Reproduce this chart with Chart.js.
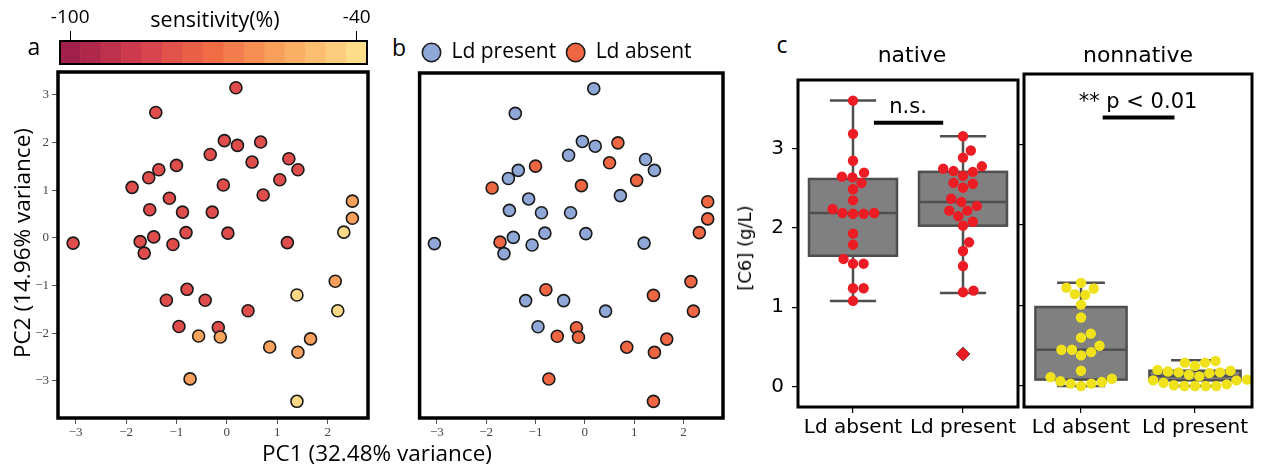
<!DOCTYPE html>
<html>
<head>
<meta charset="utf-8">
<script src="https://cdn.jsdelivr.net/npm/chart.js@4.4.0/dist/chart.umd.min.js"></script>
<style>
body { margin: 0; background: #fff; }
#fig { position: relative; width: 1265px; height: 469px; overflow: hidden; background: #fff; }
#fig canvas { position: absolute; }
.txt { position: absolute; white-space: nowrap; transform: translate(-50%, -50%); line-height: 1; color: #000; }
.sans { font-family: 'Open Sans', sans-serif; }
.dv { font-family: 'DejaVu Sans', sans-serif; }
.rot { transform: translate(-50%, -50%) rotate(-90deg); }
</style>
</head>
<body>
<div id="fig">
  <canvas id="cbar" width="350" height="68" style="left:40px;top:0px"></canvas>
  <canvas id="pcaA" width="380" height="409" style="left:0px;top:60px"></canvas>
  <canvas id="pcaB" width="330" height="439" style="left:412px;top:30px"></canvas>
  <canvas id="native" width="266" height="409" style="left:760px;top:60px"></canvas>
  <canvas id="nonnative" width="255" height="409" style="left:1010px;top:60px"></canvas>

  <div class="txt sans" style="left:34px;top:46px;font-size:23px">a</div>
  <div class="txt sans" style="left:399px;top:47px;font-size:23px">b</div>
  <div class="txt sans" style="left:782px;top:44px;font-size:23px">c</div>
  <div class="txt sans" style="left:215px;top:19px;font-size:21.5px">sensitivity(%)</div>
  <div class="txt sans rot" style="left:22px;top:243px;font-size:22.5px">PC2 (14.96% variance)</div>
  <div class="txt sans" style="left:377px;top:453px;font-size:22.5px">PC1 (32.48% variance)</div>
  <div class="txt dv rot" style="left:745px;top:248px;font-size:18px">[C6] (g/L)</div>
  <div class="txt dv" style="left:912px;top:55px;font-size:22px">native</div>
  <div class="txt dv" style="left:1138px;top:55px;font-size:22px">nonnative</div>
</div>

<script>
// PCA scores (panels a and b), one entry per sample
const pc1 = [-3.05, -1.41, 0.18, -0.05, 0.21, 0.67, -0.33, 0.50, 1.23, 1.41,
             1.05, -0.07, 0.72, -1.88, -1.55, -1.35, -1.00, -1.14, -1.53, -0.88,
             -0.29, -0.81, 0.02, -1.45, -1.72, -1.07, -1.64, 1.20, 2.49, 2.49,
             2.32, 2.15, 1.39, 2.20, -0.79, -1.20, -0.43, 0.42, -0.95, -0.17,
             -0.56, -0.13, 0.85, 1.66, 1.41, -0.73, 1.39];
const pc2 = [-0.11, 2.63, 3.15, 2.04, 1.94, 2.01, 1.75, 1.59, 1.66, 1.43,
             1.22, 1.11, 0.90, 1.06, 1.26, 1.43, 1.52, 0.83, 0.59, 0.54,
             0.54, 0.11, 0.10, 0.02, -0.08, -0.14, -0.32, -0.10, 0.77, 0.41,
             0.12, -0.91, -1.20, -1.53, -1.08, -1.31, -1.31, -1.53, -1.86, -1.88,
             -2.06, -2.08, -2.29, -2.12, -2.40, -2.96, -3.43];
const sensitivity = [-80, -80, -80, -80, -80, -80, -80, -80, -80, -80,
                     -80, -80, -80, -80, -80, -80, -80, -80, -80, -80,
                     -80, -80, -80, -80, -80, -80, -80, -80, -57, -57,
                     -41, -57, -41, -41, -80, -80, -80, -80, -80, -80,
                     -56, -56, -57, -57, -57, -57, -41];
const ldPresent = [1, 1, 1, 1, 1, 0, 1, 0, 1, 1,
                   0, 0, 1, 0, 1, 1, 0, 1, 1, 1,
                   1, 1, 1, 1, 0, 1, 1, 1, 0, 0,
                   0, 0, 0, 0, 0, 1, 1, 1, 1, 0,
                   0, 0, 0, 0, 0, 0, 0];

// colorbar levels
const sensLevels = [-100, -95.71, -91.43, -87.14, -82.86, -78.57, -74.29, -70,
                    -65.71, -61.43, -57.14, -52.86, -48.57, -44.29, -40];

// panel c: [C6] per group
const groupLabels = ['Ld absent', 'Ld present'];
const nativeAbsent = [3.61, 3.19, 2.85, 2.70, 2.64, 2.65, 2.57, 2.49, 2.35, 2.24, 2.18,
                      2.18, 2.19, 2.19, 1.93, 1.79, 1.61, 1.55, 1.55, 1.24, 1.24, 1.08];
const nativePresent = [3.16, 2.98, 2.89, 2.78, 2.71, 2.66, 2.72, 2.75, 2.56, 2.51, 2.57, 2.37,
                       2.33, 2.22, 2.22, 2.28, 2.15, 2.08, 2.03, 1.82, 1.71, 1.52, 1.21, 1.19, 0.41];
const nonnativeAbsent = [1.28, 1.21, 1.22, 1.13, 1.14, 1.01, 0.85, 0.65, 0.60, 0.50, 0.42,
                         0.38, 0.45, 0.45, 0.19, 0.11, 0.06, 0.03, 0.00, 0.03, 0.05, 0.09];
const nonnativePresent = [0.31, 0.29, 0.29, 0.25, 0.19, 0.17, 0.16, 0.12, 0.14, 0.17, 0.18,
                          0.20, 0.08, 0.07, 0.02, 0.00, 0.00, 0.00, 0.00, 0.01, 0.04, 0.07];
// box stats [absent, present]
const nativeQ1 = [1.65, 2.03], nativeMed = [2.19, 2.33], nativeQ3 = [2.62, 2.71];
const nativeLo = [1.08, 1.18], nativeHi = [3.61, 3.16];
const nonnativeQ1 = [0.08, 0.07], nonnativeMed = [0.45, 0.12], nonnativeQ3 = [0.98, 0.19];
const nonnativeLo = [0.00, 0.00], nonnativeHi = [1.28, 0.32];
const nativeOutliers = [0.41];
const sigText = ['n.s.', '** p < 0.01'];

Chart.defaults.animation = false;
Chart.defaults.responsive = false;
Chart.defaults.plugins.legend.display = false;
Chart.defaults.plugins.tooltip.enabled = false;

const cmapStops = ['#a01f4b', '#d53e4f', '#f16c45', '#f9a85f', '#fddc8a'];
function hexRgb(h) {
  return [1, 3, 5].map(i => parseInt(h.substr(i, 2), 16));
}
function cmap(v) {
  let t = (v - sensLevels[0]) / (sensLevels[sensLevels.length - 1] - sensLevels[0]);
  t = Math.max(0, Math.min(1, t)) * (cmapStops.length - 1);
  const k = Math.min(Math.floor(t), cmapStops.length - 2), f = t - k;
  const a = hexRgb(cmapStops[k]), b = hexRgb(cmapStops[k + 1]);
  const c = a.map((x, i) => Math.round(x + (b[i] - x) * f));
  return 'rgb(' + c.join(',') + ')';
}

const minus = v => String(v).replace('-', '\u2212');

// black box around the plot area
const frame = {
  id: 'frame',
  afterDraw(chart, args, opts) {
    const a = chart.chartArea, ctx = chart.ctx;
    ctx.save();
    ctx.lineWidth = opts.width || 3;
    ctx.strokeStyle = '#000';
    ctx.strokeRect(a.left, a.top, a.right - a.left, a.bottom - a.top);
    ctx.restore();
  }
};

// colorbar
new Chart('cbar', {
  type: 'bar',
  data: {
    datasets: [{
      data: sensLevels.map(v => ({x: v, y: 1})),
      backgroundColor: sensLevels.map(cmap),
      barPercentage: 1,
      categoryPercentage: 1,
      borderWidth: 0
    }]
  },
  options: {
    layout: {padding: {left: 20, right: 23, top: 0, bottom: 4}},
    scales: {
      x: {
        type: 'linear', position: 'top', min: -102.14, max: -37.86, offset: false,
        afterBuildTicks: s => { s.ticks = [{value: sensLevels[0]}, {value: sensLevels[sensLevels.length - 1]}]; },
        ticks: {font: {family: 'Open Sans', size: 19}, color: '#000', padding: 2, callback: v => String(Math.round(v))},
        grid: {drawOnChartArea: false, offset: false, tickLength: 10, color: '#000', lineWidth: 1},
        border: {display: false},
        afterFit: s => { s.height = 41; }
      },
      y: {display: false, min: 0, max: 1}
    },
    plugins: {frame: {width: 2}}
  },
  plugins: [frame]
});

const pcRangeX = [-3.35, 2.8], pcRangeY = [-3.78, 3.48];
function pcaScales(yWidth, showY) {
  return {
    x: {
      type: 'linear', min: pcRangeX[0], max: pcRangeX[1],
      ticks: {stepSize: 1, includeBounds: false, padding: 1, color: '#444',
              font: {family: 'Liberation Serif', size: 13}, callback: minus},
      grid: {drawOnChartArea: false, tickLength: 6, color: '#555'},
      border: {display: false},
      afterFit: s => { s.height = 51; }
    },
    y: {
      type: 'linear', min: pcRangeY[0], max: pcRangeY[1],
      ticks: {display: showY, stepSize: 1, includeBounds: false, padding: 3, color: '#444',
              font: {family: 'Liberation Serif', size: 13}, callback: minus},
      grid: {display: showY, drawOnChartArea: false, tickLength: 6, color: '#555'},
      border: {display: false},
      afterFit: s => { s.width = yWidth; }
    }
  };
}
const pointStyle = {pointRadius: 6, pointHoverRadius: 6, borderColor: '#1a1a1a', borderWidth: 1.6};

new Chart('pcaA', {
  type: 'scatter',
  data: {
    datasets: [Object.assign({
      data: pc1.map((x, i) => ({x: x, y: pc2[i]})),
      backgroundColor: sensitivity.map(cmap)
    }, pointStyle)]
  },
  options: {
    layout: {padding: {left: 0, top: 12, right: 12, bottom: 0}},
    scales: pcaScales(58, true),
    plugins: {frame: {width: 3.5}}
  },
  plugins: [frame]
});

const present = [], absent = [];
pc1.forEach((x, i) => (ldPresent[i] ? present : absent).push({x: x, y: pc2[i]}));

new Chart('pcaB', {
  type: 'scatter',
  data: {
    datasets: [
      Object.assign({label: 'Ld present', data: present, backgroundColor: '#8fa8d8'}, pointStyle),
      Object.assign({label: 'Ld absent', data: absent, backgroundColor: '#ef6643'}, pointStyle)
    ]
  },
  options: {
    layout: {padding: {left: 0, top: 2, right: 19, bottom: 0}},
    scales: pcaScales(3, false),
    plugins: {
      frame: {width: 3.5},
      legend: {
        display: true, position: 'top', align: 'start',
        labels: {usePointStyle: true, pointStyle: 'circle', boxWidth: 19, boxHeight: 13, padding: 10,
                 color: '#000', font: {family: 'Open Sans', size: 21}}
      }
    }
  },
  plugins: [frame]
});

// box + whiskers drawn through the chart scales
const boxes = {
  id: 'boxes',
  beforeDatasetsDraw(chart, args, o) {
    const {ctx, scales: {x, y}} = chart;
    ctx.save();
    ctx.lineWidth = 2.5;
    ctx.strokeStyle = '#4f4f4f';
    o.q1.forEach((q1, i) => {
      const xl = x.getPixelForValue(i - 0.4), xr = x.getPixelForValue(i + 0.4);
      const cl = x.getPixelForValue(i - 0.21), cr = x.getPixelForValue(i + 0.21);
      const xc = x.getPixelForValue(i);
      const y1 = y.getPixelForValue(q1), y3 = y.getPixelForValue(o.q3[i]), ym = y.getPixelForValue(o.med[i]);
      const ylo = y.getPixelForValue(o.lo[i]), yhi = y.getPixelForValue(o.hi[i]);
      ctx.beginPath();
      ctx.moveTo(xc, y3); ctx.lineTo(xc, yhi);
      ctx.moveTo(cl, yhi); ctx.lineTo(cr, yhi);
      ctx.moveTo(xc, y1); ctx.lineTo(xc, ylo);
      ctx.moveTo(cl, ylo); ctx.lineTo(cr, ylo);
      ctx.stroke();
      ctx.fillStyle = '#808080';
      ctx.fillRect(xl, y3, xr - xl, y1 - y3);
      ctx.strokeRect(xl, y3, xr - xl, y1 - y3);
      ctx.beginPath();
      ctx.moveTo(xl, ym); ctx.lineTo(xr, ym);
      ctx.stroke();
    });
    ctx.restore();
  },
  afterDatasetsDraw(chart, args, o) {
    const {ctx, scales: {x, y}} = chart;
    ctx.save();
    ctx.strokeStyle = '#000';
    ctx.lineWidth = 4;
    ctx.beginPath();
    ctx.moveTo(x.getPixelForValue(0.19), y.getPixelForValue(3.33));
    ctx.lineTo(x.getPixelForValue(0.82), y.getPixelForValue(3.33));
    ctx.stroke();
    ctx.fillStyle = '#000';
    ctx.font = '21px "DejaVu Sans"';
    ctx.textAlign = 'center';
    ctx.textBaseline = 'alphabetic';
    ctx.fillText(o.label, x.getPixelForValue(0.5), y.getPixelForValue(3.45));
    ctx.restore();
  }
};

function boxChart(id, lists, color, stats, showY, padRight, outliers) {
  const datasets = lists.map((vals, i) => ({
    data: vals.map(v => ({x: i, y: v})),
    backgroundColor: color, borderWidth: 0, pointRadius: 5.2, pointHoverRadius: 5.2
  }));
  if (outliers) {
    datasets.push({
      data: outliers.map(v => ({x: 1, y: v})),
      pointStyle: 'rectRot', backgroundColor: color, borderColor: '#555', borderWidth: 1,
      pointRadius: 7, pointHoverRadius: 7
    });
  }
  const chart = new Chart(id, {
    type: 'scatter',
    data: {datasets: datasets},
    options: {
      layout: {padding: {left: 0, top: 14, right: padRight, bottom: 0}},
      scales: {
        x: {
          type: 'linear', min: -0.5, max: 1.5,
          afterBuildTicks: s => { s.ticks = groupLabels.map((_, i) => ({value: i})); },
          ticks: {callback: v => groupLabels[v], font: {family: 'DejaVu Sans', size: 20}, color: '#000',
                  padding: 3, maxRotation: 0, autoSkip: false},
          grid: {drawOnChartArea: false, tickLength: 6, color: '#000', lineWidth: 1.2},
          border: {display: false},
          afterFit: s => { s.height = 62; }
        },
        y: {
          type: 'linear', min: -0.26, max: 3.87,
          ticks: {display: showY, stepSize: 1, includeBounds: false, padding: 8,
                  font: {family: 'DejaVu Sans', size: 20}, color: '#000'},
          grid: {drawOnChartArea: false, tickLength: 6, color: '#000', lineWidth: 1.2},
          border: {display: false},
          afterFit: s => { s.width = showY ? 38 : 14; }
        }
      },
      plugins: {frame: {width: 3}, boxes: stats}
    },
    plugins: [boxes, frame]
  });
  placeSwarm(chart, lists, 10.6);
  return chart;
}

// seaborn-like swarm: each point goes to the free spot closest to the centre
function beeswarm(vals, ys, d) {
  const pts = vals.map(v => ({v: v, py: ys.getPixelForValue(v), dx: 0}));
  const placed = [];
  pts.slice().sort((a, b) => a.v - b.v).forEach(p => {
    const cands = [0];
    placed.forEach(q => {
      const dy = p.py - q.py;
      if (Math.abs(dy) < d) {
        const w = Math.sqrt(d * d - dy * dy);
        cands.push(q.dx + w, q.dx - w);
      }
    });
    cands.sort((a, b) => Math.abs(a) - Math.abs(b));
    for (const c of cands) {
      const ok = placed.every(q => (c - q.dx) ** 2 + (p.py - q.py) ** 2 >= d * d - 0.01);
      if (ok) { p.dx = c; break; }
    }
    placed.push(p);
  });
  return pts;
}

function placeSwarm(chart, lists, d) {
  const xs = chart.scales.x, ys = chart.scales.y;
  const unit = xs.getPixelForValue(1) - xs.getPixelForValue(0);
  lists.forEach((vals, i) => {
    chart.data.datasets[i].data = beeswarm(vals, ys, d).map(p => ({x: i + p.dx / unit, y: p.v}));
  });
  chart.update('none');
}

boxChart('native', [nativeAbsent, nativePresent], '#ec1c24',
  {q1: nativeQ1, med: nativeMed, q3: nativeQ3, lo: nativeLo, hi: nativeHi, label: sigText[0]},
  true, 2, nativeOutliers);
boxChart('nonnative', [nonnativeAbsent, nonnativePresent], '#efe21a',
  {q1: nonnativeQ1, med: nonnativeMed, q3: nonnativeQ3, lo: nonnativeLo, hi: nonnativeHi, label: sigText[1]},
  false, 13, null);
</script>
</body>
</html>
